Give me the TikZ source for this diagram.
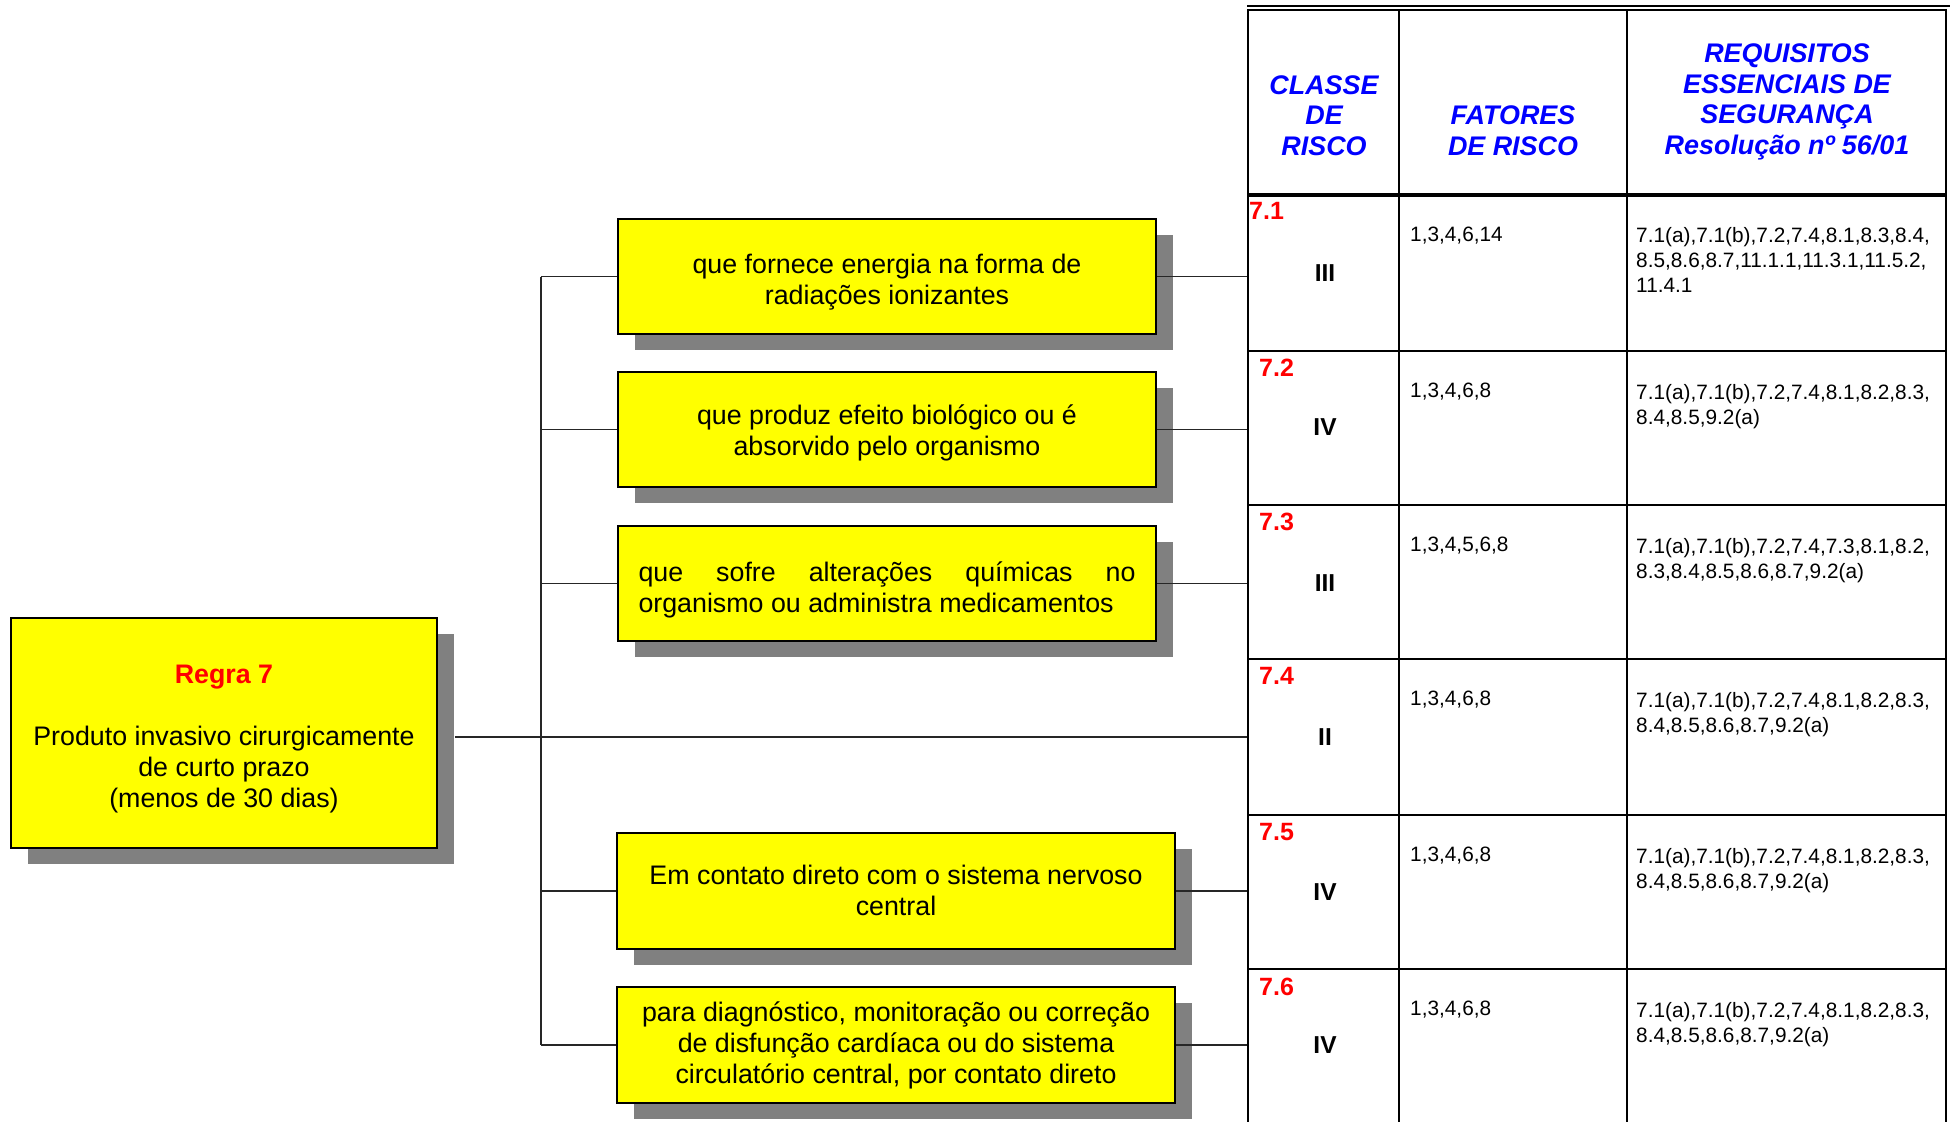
\documentclass[tikz,border=0pt]{standalone}
\usepackage{fontspec}
\setmainfont{Liberation Sans}
\usetikzlibrary{shadows}
\definecolor{shadowgray}{HTML}{808080}
\definecolor{boxyellow}{HTML}{FFFF00}
\definecolor{hdrblue}{HTML}{0000FF}
\definecolor{numred}{HTML}{FF0000}
\newcommand{\bxf}{\fontsize{26.8}{31}\selectfont}
\newcommand{\hdrf}{\fontsize{26.9}{30.5}\selectfont\bfseries\itshape}
\newcommand{\rnumf}{\fontsize{25}{28}\selectfont\bfseries}
\newcommand{\clsf}{\fontsize{24.5}{28}\selectfont\bfseries}
\newcommand{\cellf}{\fontsize{20.8}{25}\selectfont}
\begin{document}
\begin{tikzpicture}[x=1pt,y=-1pt,
  ybox/.style={draw=black, line width=1.8pt, fill=boxyellow, inner sep=0pt,
    drop shadow={shadow xshift=17pt, shadow yshift=-16pt, fill=shadowgray, opacity=1}},
  btext/.style={inner sep=0pt, align=center, font=\bxf},
  conn/.style={draw=black!85, line width=1.6pt},
  gridline/.style={draw=black, line width=2pt},
  hdr/.style={text=hdrblue, font=\hdrf, align=center, inner sep=0pt},
  rnum/.style={text=numred, font=\rnumf, anchor=west, inner sep=0pt},
  cls/.style={font=\clsf, inner sep=0pt},
  fat/.style={font=\cellf, anchor=base west, inner sep=0pt},
  req/.style={font=\cellf, anchor=north west, align=left, inner sep=0pt}
]
\useasboundingbox[fill=white] (0,0) rectangle (1950,1122);

% ---------- boxes ----------
\node[ybox, minimum width=426pt, minimum height=230pt] (main) at (224,733) {};
\node[ybox, minimum width=538pt, minimum height=115pt] (b1) at (887,276.5) {};
\node[ybox, minimum width=538pt, minimum height=115pt] (b2) at (887,429.5) {};
\node[ybox, minimum width=538pt, minimum height=115pt] (b3) at (887,583.5) {};
\node[ybox, minimum width=558pt, minimum height=116pt] (b5) at (896,891) {};
\node[ybox, minimum width=558pt, minimum height=116pt] (b6) at (896,1045) {};

% ---------- box texts ----------
\node[btext] (maint) at ([yshift=-6pt]main.center)
  {{\color{numred}\bfseries Regra 7}\\[31pt]Produto invasivo cirurgicamente\\de curto prazo\\(menos de 30 dias)};
\node[btext] (b1t) at ([yshift=-6pt]b1.center)
  {que fornece energia na forma de\\radiações ionizantes};
\node[btext] (b2t) at ([yshift=-3pt]b2.center)
  {que produz efeito biológico ou é\\absorvido pelo organismo};
\node[btext, align=left] (b3t) at ([yshift=-6pt]b3.center)
  {\hbox to 497pt{que\hfill sofre\hfill alterações\hfill químicas\hfill no}\\organismo ou administra medicamentos};
\node[btext] (b5t) at ([yshift=1pt]b5.center)
  {Em contato direto com o sistema nervoso\\central};
\node[btext] (b6t) at (b6.center)
  {para diagnóstico, monitoração ou correção\\de disfunção cardíaca ou do sistema\\circulatório central, por contato direto};

% ---------- connector coordinates ----------
\coordinate (t1) at (541,276.5);
\coordinate (t2) at (541,429.5);
\coordinate (t3) at (541,583.5);
\coordinate (t4) at (541,737);
\coordinate (t5) at (541,891);
\coordinate (t6) at (541,1045);
\coordinate (e1) at (1249,276.5);
\coordinate (e2) at (1249,429.5);
\coordinate (e3) at (1249,583.5);
\coordinate (e4) at (1249,737);
\coordinate (e5) at (1249,891);
\coordinate (e6) at (1249,1045);
\coordinate (ms) at ([xshift=17pt]main.east);

% ---------- connectors ----------
\draw[conn] (t1) -- (t6);
\draw[conn] (ms |- e4) -- (e4);
\draw[conn] (t1) -- (b1.west);
\draw[conn] (t2) -- (b2.west);
\draw[conn] (t3) -- (b3.west);
\draw[conn] (t5) -- (b5.west);
\draw[conn] (t6) -- (b6.west);
\draw[conn] (b1.east) -- (e1);
\draw[conn] (b2.east) -- (e2);
\draw[conn] (b3.east) -- (e3);
\draw[conn] (b5.east) -- (e5);
\draw[conn] (b6.east) -- (e6);

% ---------- table grid ----------
\draw[gridline, line width=2.5pt] (1247,6) -- (1950,6);
\draw[gridline] (1247,10) -- (1947,10);
\draw[gridline] (1248,9) -- (1248,1122);
\draw[gridline] (1399,9) -- (1399,1122);
\draw[gridline] (1627,9) -- (1627,1122);
\draw[gridline] (1946,9) -- (1946,1122);
\draw[gridline, line width=4pt] (1248,195) -- (1946,195);
\foreach \yy in {351,505,659,815,969} \draw[gridline] (1248,\yy) -- (1946,\yy);

% ---------- header ----------
\node[hdr] (h1) at (1324,115.5) {CLASSE\\DE\\RISCO};
\node[hdr] (h2) at (1513,130.5) {FATORES\\DE RISCO};
\node[hdr] (h3) at (1787,102) {REQUISITOS\\ESSENCIAIS DE\\SEGURANÇA\\Resolução nº 56/01};

% ---------- rows ----------
\node[rnum] (n1) at (1249,211) {7.1};
\node[rnum] (n2) at (1259,368) {7.2};
\node[rnum] (n3) at (1259,522) {7.3};
\node[rnum] (n4) at (1259,676) {7.4};
\node[rnum] (n5) at (1259,832) {7.5};
\node[rnum] (n6) at (1259,987) {7.6};

\node[cls] (c1) at (1325,273) {III};
\node[cls] (c2) at (1325,427) {IV};
\node[cls] (c3) at (1325,583) {III};
\node[cls] (c4) at (1325,737) {II};
\node[cls] (c5) at (1325,892) {IV};
\node[cls] (c6) at (1325,1045) {IV};

\node[fat] (f1) at (1410,241) {1,3,4,6,14};
\node[fat] (f2) at (1410,397) {1,3,4,6,8};
\node[fat] (f3) at (1410,551) {1,3,4,5,6,8};
\node[fat] (f4) at (1410,705) {1,3,4,6,8};
\node[fat] (f5) at (1410,861) {1,3,4,6,8};
\node[fat] (f6) at (1410,1015) {1,3,4,6,8};

\node[req] (r1) at (1636,227) {7.1(a),7.1(b),7.2,7.4,8.1,8.3,8.4,\\8.5,8.6,8.7,11.1.1,11.3.1,11.5.2,\\11.4.1};
\node[req] (r2) at (1636,384) {7.1(a),7.1(b),7.2,7.4,8.1,8.2,8.3,\\8.4,8.5,9.2(a)};
\node[req] (r3) at (1636,538) {7.1(a),7.1(b),7.2,7.4,7.3,8.1,8.2,\\8.3,8.4,8.5,8.6,8.7,9.2(a)};
\node[req] (r4) at (1636,692) {7.1(a),7.1(b),7.2,7.4,8.1,8.2,8.3,\\8.4,8.5,8.6,8.7,9.2(a)};
\node[req] (r5) at (1636,848) {7.1(a),7.1(b),7.2,7.4,8.1,8.2,8.3,\\8.4,8.5,8.6,8.7,9.2(a)};
\node[req] (r6) at (1636,1002) {7.1(a),7.1(b),7.2,7.4,8.1,8.2,8.3,\\8.4,8.5,8.6,8.7,9.2(a)};
\end{tikzpicture}
\end{document}
